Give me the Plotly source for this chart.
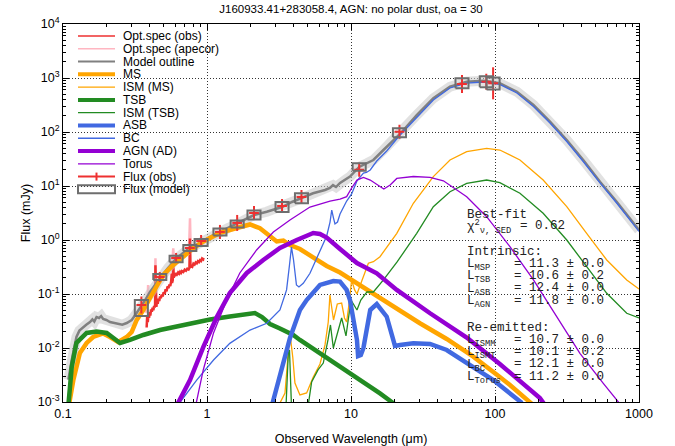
import plotly.graph_objects as go

# ---------------------------------------------------------------- data
# wavelength in micron, flux density in mJy

# optical spectrum, observed
spec_obs_wl = [0.381, 0.384, 0.388, 0.392, 0.396, 0.400, 0.404, 0.409, 0.414, 0.419,
               0.424, 0.429, 0.433, 0.436, 0.4385, 0.441, 0.445, 0.450, 0.455, 0.460,
               0.466, 0.472, 0.478, 0.485, 0.492, 0.500, 0.508, 0.516, 0.524, 0.532,
               0.540, 0.548, 0.556, 0.564, 0.569, 0.572, 0.578, 0.583, 0.588, 0.595,
               0.602, 0.610, 0.620, 0.630, 0.640, 0.650, 0.660, 0.670, 0.685, 0.700,
               0.715, 0.730, 0.745, 0.755, 0.762, 0.768, 0.775, 0.790, 0.805, 0.820,
               0.835, 0.850, 0.865, 0.880, 0.895, 0.910, 0.925, 0.940, 0.945]
spec_obs_f = [0.024, 0.038, 0.030, 0.042, 0.036, 0.046, 0.040, 0.052, 0.047, 0.056,
              0.050, 0.060, 0.056, 0.064, 0.340, 0.066, 0.058, 0.072, 0.066, 0.082,
              0.074, 0.090, 0.084, 0.098, 0.090, 0.108, 0.100, 0.122, 0.112, 0.138,
              0.128, 0.150, 0.140, 0.172, 0.240, 0.160, 0.180, 0.370, 0.200, 0.230,
              0.215, 0.245, 0.232, 0.250, 0.238, 0.258, 0.245, 0.265, 0.255, 0.282,
              0.270, 0.295, 0.285, 0.305, 1.070, 0.310, 0.330, 0.318, 0.365, 0.350,
              0.385, 0.370, 0.405, 0.390, 0.425, 0.410, 0.455, 0.440, 0.470]

# optical spectrum, aperture corrected
spec_ape_wl = [0.378, 0.382, 0.386, 0.390, 0.393, 0.398, 0.403, 0.408, 0.414, 0.420,
               0.426, 0.432, 0.436, 0.4385, 0.441, 0.447, 0.454, 0.462, 0.470, 0.478,
               0.486, 0.495, 0.505, 0.515, 0.525, 0.535, 0.545, 0.555, 0.565, 0.572,
               0.583, 0.590, 0.600, 0.612, 0.625, 0.640, 0.655, 0.670, 0.690, 0.710,
               0.730, 0.750, 0.762, 0.770, 0.790, 0.810, 0.830, 0.850, 0.870, 0.890,
               0.910, 0.930, 0.950, 0.970]
spec_ape_f = [0.045, 0.075, 0.060, 0.147, 0.080, 0.095, 0.088, 0.110, 0.100, 0.125,
              0.118, 0.140, 0.150, 0.460, 0.160, 0.150, 0.175, 0.168, 0.195, 0.185,
              0.215, 0.205, 0.235, 0.225, 0.265, 0.255, 0.295, 0.285, 0.330, 0.320,
              0.700, 0.400, 0.450, 0.440, 0.480, 0.470, 0.510, 0.500, 0.580, 0.560,
              0.640, 0.620, 2.520, 0.680, 0.660, 0.740, 0.720, 0.780, 0.800, 0.790,
              0.850, 0.830, 0.920, 0.960]

# total model
model_wl = [0.109, 0.112, 0.115, 0.119, 0.124, 0.130, 0.138, 0.145, 0.154, 0.160,
            0.165, 0.171, 0.178, 0.184, 0.190, 0.200, 0.212, 0.225, 0.242, 0.258,
            0.277, 0.300, 0.321, 0.343, 0.370, 0.402, 0.436, 0.472, 0.536, 0.609,
            0.681, 0.762, 0.908, 1.05, 1.23, 1.40, 1.62, 1.87, 2.12, 2.60,
            3.32, 3.89, 4.53, 5.45, 6.60, 7.14, 7.50, 7.87, 8.39, 9.08,
            9.84, 11.4, 12.9, 14.3, 16.8, 21.9, 28.6, 37.3, 48.7, 63.6,
            83.0, 108, 142, 185, 241, 315, 410, 536, 700, 1000]
model_f = [0.0026, 0.0042, 0.0060, 0.0095, 0.016, 0.021, 0.0245, 0.027, 0.0303, 0.034,
           0.031, 0.0375, 0.036, 0.039, 0.0344, 0.033, 0.0303, 0.029, 0.0278, 0.027,
           0.029, 0.033, 0.0426, 0.055, 0.075, 0.109, 0.150, 0.198, 0.303, 0.445,
           0.574, 0.711, 0.90, 1.14, 1.41, 1.67, 1.98, 2.45, 2.90, 3.34,
           4.08, 5.06, 5.92, 7.33, 8.43, 9.18, 10.4, 9.58, 11.4, 12.9,
           14.9, 22.5, 26.3, 30.3, 46.4, 91.8, 206, 421, 690, 853,
           891, 798, 557, 316, 155, 71.1, 30.3, 12.0, 5.12, 1.53]

# main sequence stars
ms_wl = [0.110, 0.118, 0.131, 0.146, 0.162, 0.190, 0.212, 0.242, 0.277, 0.300,
         0.325, 0.361, 0.424, 0.497, 0.583, 0.684, 0.803, 0.943, 1.23, 1.61,
         1.99, 2.33, 2.74, 3.05, 3.39, 3.77, 4.42, 5.47, 6.78, 8.39,
         10.4, 12.9, 15.9, 21.9, 30.1, 46.2, 70.7, 108, 127, 184]
ms_f = [0.00088, 0.00255, 0.00807, 0.0124, 0.016, 0.0186, 0.016, 0.0129, 0.016, 0.0198,
        0.033, 0.0506, 0.109, 0.225, 0.344, 0.491, 0.702, 0.938, 1.35, 1.67,
        1.94, 1.65, 1.15, 0.938, 0.979, 0.808, 0.681, 0.464, 0.330, 0.250,
        0.174, 0.119, 0.0843, 0.0485, 0.0287, 0.0147, 0.0069, 0.0029, 0.00207, 0.00088]

ism_ms_wl = [3.16, 3.48, 3.67, 3.77, 3.94, 4.08, 4.42, 4.92, 5.47, 6.09,
             6.60, 6.95, 7.14, 7.38, 7.56, 8.03, 8.61, 9.01, 9.33, 9.77,
             10.1, 10.6, 11.0, 11.6, 12.2, 13.2, 14.3, 15.9, 20.8, 27.1,
             37.3, 48.7, 63.6, 87.5, 108, 149, 216, 315, 433, 597,
             822, 1000]
ism_ms_f = [0.00088, 0.00147, 0.00843, 0.0182, 0.00681, 0.00225, 0.00135, 0.00147, 0.0029, 0.00506,
            0.0114, 0.0303, 0.0958, 0.0506, 0.033, 0.0653, 0.0681, 0.036, 0.0303, 0.0774,
            0.182, 0.119, 0.100, 0.147, 0.206, 0.371, 0.396, 0.491, 1.33, 4.78,
            14.9, 30.3, 43.2, 49.9, 46.4, 30.3, 12.9, 4.14, 1.33, 0.426,
            0.182, 0.124]

# thermal starburst
tsb_wl = [0.109, 0.115, 0.124, 0.146, 0.171, 0.201, 0.224, 0.249, 0.292, 0.361,
          0.472, 0.616, 0.803, 1.05, 1.44, 1.89, 2.15, 2.41, 2.74, 3.21,
          3.97, 4.42, 6.09, 8.39, 11.6, 15.9, 19.6, 21.9]
tsb_f = [0.00088, 0.00445, 0.0124, 0.019, 0.0202, 0.019, 0.0153, 0.0124, 0.0141, 0.0174,
         0.0215, 0.025, 0.0287, 0.0337, 0.0383, 0.0435, 0.0445, 0.0375, 0.0278, 0.023,
         0.0174, 0.0141, 0.00807, 0.00445, 0.00255, 0.00144, 0.00096, 0.00077]

ism_tsb_wl = [3.54, 3.67, 3.74, 3.81, 3.89, 4.87, 5.33, 5.90, 6.42, 6.92,
              7.20, 7.54, 8.00, 8.61, 9.23, 10.0, 11.0, 11.7, 12.9, 14.3,
              16.8, 20.9, 28.6, 37.3, 48.7, 63.6, 87.5, 108, 149, 216,
              315, 433, 597, 822, 1000]
ism_tsb_f = [0.00088, 0.00807, 0.00918, 0.00344, 0.000464, 0.000464, 0.00235, 0.00392, 0.00527, 0.0141,
             0.0267, 0.010, 0.0174, 0.036, 0.0167, 0.0774, 0.0506, 0.0774, 0.109, 0.109,
             0.182, 0.392, 1.33, 4.14, 7.84, 11.2, 12.9, 11.5, 7.33, 3.12,
             1.0, 0.321, 0.103, 0.044, 0.036]

# active starburst
asb_wl = [2.83, 3.21, 3.77, 4.42, 4.92, 6.09, 7.54, 8.39, 9.33, 9.84,
          10.4, 11.0, 11.2, 11.7, 12.2, 12.9, 13.6, 15.1, 17.7, 20.2,
          21.9, 27.1, 35.4, 46.2, 63.6, 97.3, 154]
asb_f = [0.00088, 0.00316, 0.0153, 0.0506, 0.0774, 0.147, 0.174, 0.170, 0.119, 0.0774,
         0.029, 0.0141, 0.0071, 0.00742, 0.010, 0.0215, 0.0506, 0.0653, 0.038, 0.0109,
         0.0114, 0.0122, 0.0119, 0.00918, 0.00521, 0.00255, 0.00096]

bc_wl = [0.629, 0.848, 1.11, 1.44, 1.99, 2.60, 3.21, 3.57, 3.74, 3.86,
         3.99, 4.18, 4.35, 4.66, 5.19, 5.78, 6.78, 7.15, 7.35, 7.56,
         7.74, 8.06, 8.39, 9.33, 10.1, 11.0, 11.6, 12.2, 12.8, 13.6,
         15.1, 17.7, 21.6, 28.6, 37.3, 48.7, 63.6, 83.0, 108, 142,
         185, 241, 315, 410, 536, 700, 1000]
bc_f = [0.00088, 0.00255, 0.0060, 0.0122, 0.0215, 0.0287, 0.0506, 0.119, 0.344, 0.741,
        0.426, 0.147, 0.135, 0.158, 0.242, 0.464, 1.19, 2.15, 3.59, 2.55,
        1.98, 2.15, 3.03, 5.27, 7.11, 12.4, 14.7, 17.4, 17.8, 19.8,
        29.0, 44.5, 84.3, 186, 391, 653, 807, 843, 759, 527,
        296, 147, 66.7, 28.4, 11.4, 4.84, 1.44]

# AGN accretion disk and torus
agn_wl = [0.619, 0.762, 0.942, 1.17, 1.44, 1.89, 2.46, 3.21, 4.20, 5.47,
          6.09, 6.78, 8.39, 9.33, 11.0, 15.1, 20.8, 35.4, 63.6, 108,
          205, 222]
agn_f = [0.00088, 0.00255, 0.0104, 0.0375, 0.104, 0.245, 0.426, 0.711, 1.0, 1.35,
         1.29, 1.11, 0.681, 0.551, 0.375, 0.242, 0.119, 0.044, 0.0156, 0.00506,
         0.00119, 0.00088]

torus_wl = [0.839, 0.942, 1.11, 1.37, 1.69, 2.21, 2.89, 3.77, 5.19, 7.15,
            8.39, 9.33, 10.1, 11.0, 12.2, 13.6, 15.9, 16.9, 18.7, 20.8,
            27.1, 35.4, 43.8, 63.6, 87.5, 127, 185, 268, 389, 565,
            738]
torus_f = [0.00092, 0.00392, 0.019, 0.0774, 0.245, 0.653, 1.41, 2.35, 4.08, 5.27,
           5.74, 6.34, 9.18, 12.9, 14.4, 12.9, 9.79, 8.8, 10.4, 13.8,
           15.0, 14.5, 12.5, 6.34, 2.70, 0.751, 0.182, 0.038, 0.00798, 0.00222,
           0.00092]

# photometry
phot_wl = [0.35, 0.47, 0.61, 0.76, 0.91, 1.23, 1.62, 2.12, 3.32, 4.53, 11.4, 21.7, 59, 87, 97]
phot_obs = [0.0626, 0.206, 0.464, 0.711, 0.958, 1.41, 2.07, 3.16, 4.26, 6.26, 20.0, 101, 774, 853, 798]
phot_err_hi = [0.0273, 0.049, 0.110, 0.207, 0.279, 0.492, 0.840, 1.10, 1.49, 2.18, 6.98, 35.2, 362, 346, 780]
phot_err_lo = [0.0190, 0.0396, 0.089, 0.160, 0.216, 0.365, 0.598, 0.818, 1.10, 1.62, 5.17, 26.1, 247, 246, 395]
phot_mod_lo = [0.0391, 0.181, 0.387, 0.625, 0.775, 1.21, 1.71, 2.39, 3.29, 4.78, 19.2, 80.1, 644, 674, 612]
phot_mod_hi = [0.0773, 0.234, 0.512, 0.808, 1.045, 1.64, 2.30, 3.51, 5.06, 7.33, 26.4, 117, 989, 1079, 1020]

x_ticks = [0.1, 1, 10, 100, 1000]
y_ticks = [1e-3, 1e-2, 1e-1, 1, 10, 100, 1e3, 1e4]

legend_names = ["Opt.spec (obs)", "Opt.spec (apecor)", "Model outline", "MS", "ISM (MS)",
                "TSB", "ISM (TSB)", "ASB", "BC", "AGN (AD)", "Torus", "Flux (obs)", "Flux (model)"]

fit_labels = ["L<sub>MSP</sub>", "L<sub>TSB</sub>", "L<sub>ASB</sub>", "L<sub>AGN</sub>"]
fit_values = ["= 11.3 ± 0.0", "= 10.6 ± 0.2", "= 12.4 ± 0.0", "= 11.8 ± 0.0"]
re_labels = ["L<sub>ISMM</sub>", "L<sub>ISMT</sub>", "L<sub>BC</sub>", "L<sub>Torus</sub>"]
re_values = ["= 10.7 ± 0.0", "= 10.1 ± 0.2", "= 12.1 ± 0.0", "= 11.2 ± 0.0"]

# ---------------------------------------------------------------- style
RED = "#EE3030"
PINK = "#FFB6C1"
GREY = "#808080"
BOXGREY = "#6E6E6E"
ORANGE = "#FFA500"
GREEN = "#228B22"
BLUE = "#4169E1"
PURPLE = "#9400D3"
THICK, THIN = 4.5, 1.3

# plot area in pixels (used for the hand-made gnuplot-like key)
PX0, PX1, PY0, PY1 = 63, 639, 24, 402


def px(x):
    return (x - PX0) / (PX1 - PX0)


def py(y):
    return (PY1 - y) / (PY1 - PY0)


fig = go.Figure()


def line(x, y, color, width, name):
    fig.add_trace(go.Scatter(x=x, y=y, mode="lines", name=name,
                             line=dict(color=color, width=width), hoverinfo="skip"))


line(spec_ape_wl, spec_ape_f, PINK, 2.5, "Opt.spec (apecor)")
line(spec_obs_wl, spec_obs_f, RED, 2.5, "Opt.spec (obs)")
line(model_wl, model_f, "rgba(200,200,200,0.55)", 10, "band")
line(model_wl, model_f, GREY, 2.5, "Model outline")
line(ms_wl, ms_f, ORANGE, THICK, "MS")
line(ism_ms_wl, ism_ms_f, ORANGE, THIN, "ISM (MS)")
line(tsb_wl, tsb_f, GREEN, THICK, "TSB")
line(ism_tsb_wl, ism_tsb_f, GREEN, THIN, "ISM (TSB)")
line(asb_wl, asb_f, BLUE, THICK, "ASB")
line(bc_wl, bc_f, BLUE, THIN, "BC")
line(agn_wl, agn_f, PURPLE, THICK, "AGN (AD)")
line(torus_wl, torus_f, PURPLE, THIN, "Torus")

fig.add_trace(go.Scatter(
    x=phot_wl, y=phot_obs, mode="markers", name="Flux (obs)",
    marker=dict(symbol="line-ew", size=7, line=dict(color=RED, width=2)),
    error_y=dict(type="data", array=phot_err_hi, arrayminus=phot_err_lo,
                 color=RED, thickness=2, width=0)))

# model fluxes drawn as open boxes (fixed width in log wavelength)
bx, by = [], []
for wl, lo, hi in zip(phot_wl, phot_mod_lo, phot_mod_hi):
    a, b = wl / 1.11, wl * 1.11
    bx += [a, b, b, a, a, None]
    by += [lo, lo, hi, hi, lo, None]
fig.add_trace(go.Scatter(x=bx, y=by, mode="lines", name="Flux (model)",
                         line=dict(color=BOXGREY, width=2)))

# ---------------------------------------------------------------- key
shapes = [dict(type="rect", xref="paper", yref="paper", layer="between",
               x0=0, x1=px(250), y0=py(195), y1=1,
               fillcolor="white", line=dict(width=0))]
annotations = []
key_style = [(RED, 1.5), (PINK, 1.5), (GREY, 2), (ORANGE, 4), (ORANGE, THIN),
             (GREEN, 4), (GREEN, THIN), (BLUE, 4), (BLUE, THIN),
             (PURPLE, 4), (PURPLE, THIN), (RED, 2)]
for i, name in enumerate(legend_names):
    yy = 36 + i * 12.78
    if i < len(key_style):
        c, w = key_style[i]
        shapes.append(dict(type="line", xref="paper", yref="paper",
                           x0=px(78), x1=px(115), y0=py(yy), y1=py(yy),
                           line=dict(color=c, width=w)))
    if name == "Flux (obs)":
        shapes.append(dict(type="line", xref="paper", yref="paper",
                           x0=px(96.5), x1=px(96.5), y0=py(yy - 4), y1=py(yy + 4),
                           line=dict(color=RED, width=2)))
    if name == "Flux (model)":
        shapes.append(dict(type="rect", xref="paper", yref="paper",
                           x0=px(78), x1=px(115), y0=py(yy + 4), y1=py(yy - 4),
                           line=dict(color=BOXGREY, width=2)))
    annotations.append(dict(text=name, xref="paper", yref="paper",
                            x=px(121), y=py(yy), xanchor="left", yanchor="middle",
                            showarrow=False,
                            font=dict(family="Liberation Sans, Arial", size=12, color="black")))

# ---------------------------------------------------------------- fit summary
mono = dict(family="Liberation Mono, Courier New, monospace", size=12.5, color="#222")


def txt(s, x, y):
    annotations.append(dict(text=s, xref="paper", yref="paper", x=px(x), y=py(y),
                            xanchor="left", yanchor="middle", showarrow=False, font=mono))


txt("Best-fit", 465, 214.5)
txt("χ<sup>2</sup><sub>ν, SED</sub>", 465, 227)
txt("= 0.62", 518, 226)
txt("Intrinsic:", 465, 252.5)
for k, (lab, val) in enumerate(zip(fit_labels, fit_values)):
    txt(lab, 465, 265 + k * 12.4)
    txt(val, 511.5, 263.5 + k * 12.4)
txt("Re-emitted:", 465, 328)
for k, (lab, val) in enumerate(zip(re_labels, re_values)):
    txt(lab, 465, 341 + k * 12.4)
    txt(val, 511.5, 339.5 + k * 12.4)

# ---------------------------------------------------------------- axes
tickfont = dict(family="Liberation Sans, Arial", size=12.5, color="black")
x_minor = [m * 10 ** e for e in range(-1, 3) for m in range(2, 10)]
y_minor = [m * 10.0 ** e for e in range(-3, 4) for m in range(2, 10)]

fig.update_layout(
    width=675, height=446,
    margin=dict(l=PX0, r=675 - PX1, t=PY0, b=446 - PY1),
    paper_bgcolor="white", plot_bgcolor="white",
    showlegend=False,
    title=dict(text="J160933.41+283058.4, AGN: no polar dust, oa = 30",
               x=(PX0 + PX1) / 2 / 675, xanchor="center",
               y=1 - 8.5 / 446, yanchor="middle",
               font=dict(family="Liberation Sans, Arial", size=11.5, color="black")),
    xaxis=dict(type="log", range=[-1, 3],
               tickvals=x_ticks, ticktext=["0.1", "1", "10", "100", "1000"],
               ticks="inside", ticklen=6, tickcolor="black",
               showline=True, linecolor="black", linewidth=1, mirror="ticks",
               showgrid=True, gridcolor="#333", gridwidth=1, griddash="1px,2px",
               zeroline=False, tickfont=tickfont, automargin=False,
               minor=dict(tickvals=x_minor, ticks="inside", ticklen=3,
                          tickcolor="black", showgrid=False),
               title=dict(text="Observed Wavelength (μm)", font=tickfont, standoff=16)),
    yaxis=dict(type="log", range=[-3, 4],
               tickvals=y_ticks,
               ticktext=["10<sup>-3</sup>", "10<sup>-2</sup>", "10<sup>-1</sup>",
                         "10<sup>0</sup>", "10<sup>1</sup>", "10<sup>2</sup>",
                         "10<sup>3</sup>", "10<sup>4</sup>"],
               ticks="inside", ticklen=6, tickcolor="black",
               showline=True, linecolor="black", linewidth=1, mirror="ticks",
               showgrid=True, gridcolor="#333", gridwidth=1, griddash="1px,2px",
               zeroline=False, tickfont=tickfont, automargin=False,
               minor=dict(tickvals=y_minor, ticks="inside", ticklen=3,
                          tickcolor="black", showgrid=False),
               title=dict(text="Flux (mJy)", font=tickfont, standoff=4)),
    shapes=shapes,
    annotations=annotations,
)

# the page itself should add no offset around the figure
fig.write_html("out.html", config={"displayModeBar": False, "staticPlot": True},
               post_script="document.body.style.margin = '0';")
